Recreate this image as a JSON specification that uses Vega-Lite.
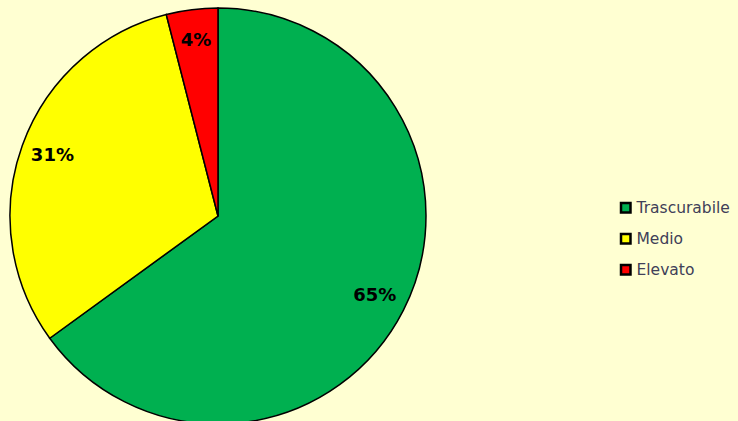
{
  "$schema": "https://vega.github.io/schema/vega-lite/v6.json",
  "width": 436,
  "height": 432,
  "autosize": {"type": "pad"},
  "padding": {"left": 0, "top": 0, "bottom": 0, "right": 30},
  "background": "#FFFFD2",
  "config": {"view": {"stroke": null}},
  "data": {"values": [
    {"categoria": "Trascurabile", "valore": 65, "etichetta": "65%", "ordine": 1},
    {"categoria": "Medio", "valore": 31, "etichetta": "31%", "ordine": 2},
    {"categoria": "Elevato", "valore": 4, "etichetta": "4%", "ordine": 3}
  ]},
  "encoding": {
    "theta": {"field": "valore", "type": "quantitative", "stack": true},
    "order": {"field": "ordine", "type": "quantitative"}
  },
  "layer": [
    {
      "mark": {"type": "arc", "outerRadius": 208, "stroke": "#000000", "strokeWidth": 1.5},
      "encoding": {
        "color": {
          "field": "categoria", "type": "nominal",
          "scale": {"domain": ["Trascurabile", "Medio", "Elevato"], "range": ["#00B050", "#FFFF00", "#FF0000"]},
          "legend": {
            "title": null, "orient": "none", "legendX": 618, "legendY": 200,
            "symbolType": "square", "symbolSize": 90, "symbolStrokeColor": "#000000", "symbolStrokeWidth": 2.5,
            "labelFont": "DejaVu Sans", "labelFontSize": 15.5, "labelColor": "#404058",
            "rowPadding": 11, "labelOffset": 3
          }
        }
      }
    },
    {
      "mark": {"type": "text", "radius": 176, "font": "DejaVu Sans", "fontSize": 18, "fontWeight": "bold", "color": "#000000"},
      "encoding": {"text": {"field": "etichetta"}}
    }
  ]
}
